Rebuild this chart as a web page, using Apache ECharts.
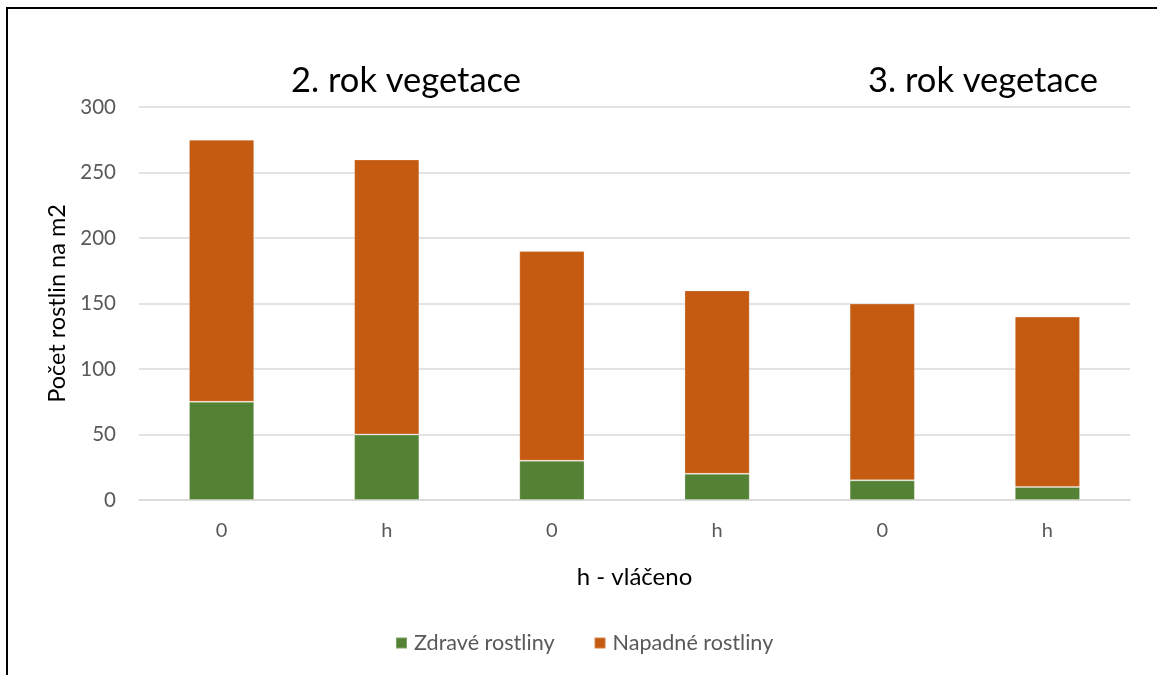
<!DOCTYPE html>
<html>
<head>
<meta charset="utf-8">
<script src="https://cdn.jsdelivr.net/npm/echarts@6/dist/echarts.min.js"></script>
<style>
  html, body { margin: 0; padding: 0; background: #fff; }
  #chart { width: 1157px; height: 675px; }
</style>
</head>
<body>
<div id="chart"></div>
<script>
// Plant counts per m2, split into healthy and infested plants
const categories = ['0', 'h', '0', 'h', '0', 'h'];
const zdrave = [75, 50, 30, 20, 15, 10];
const napadne = [200, 210, 160, 140, 135, 130];
const yTicks = { min: 0, max: 300, interval: 50 };
const sectionTitles = ['2. rok vegetace', '3. rok vegetace'];

const FONT = 'Lato, "Open Sans", sans-serif';
const chart = echarts.init(document.getElementById('chart'), null, { renderer: 'canvas' });

chart.setOption({
  backgroundColor: '#ffffff',
  animation: false,
  title: [
    { text: sectionTitles[0], left: 286, top: 58,
      textStyle: { fontFamily: FONT, fontSize: 34.5, fontWeight: 'normal', color: '#000' } },
    { text: sectionTitles[1], left: 863, top: 58,
      textStyle: { fontFamily: FONT, fontSize: 34.5, fontWeight: 'normal', color: '#000' } }
  ],
  grid: { left: 139, right: 27, top: 107, bottom: 175, containLabel: false },
  legend: {
    top: 627,
    left: 390,
    itemWidth: 11, itemHeight: 11, itemGap: 39,
    icon: 'rect',
    textStyle: { fontFamily: FONT, fontSize: 21.6, color: '#595959', padding: [0, 0, 0, 2] },
    data: ['Zdravé rostliny', 'Napadné rostliny']
  },
  xAxis: {
    type: 'category',
    data: categories,
    name: 'h - vláčeno',
    nameLocation: 'middle',
    nameGap: 65,
    nameTextStyle: { fontFamily: FONT, fontSize: 24, color: '#000' },
    axisLine: { lineStyle: { color: '#d9d9d9', width: 1.5 } },
    axisTick: { show: false },
    axisLabel: { fontFamily: FONT, fontSize: 20, color: '#595959', margin: 21 }
  },
  yAxis: {
    type: 'value',
    min: yTicks.min, max: yTicks.max, interval: yTicks.interval,
    name: 'Počet rostlin na m2',
    nameLocation: 'middle',
    nameGap: 67,
    nameTextStyle: { fontFamily: FONT, fontSize: 23.5, color: '#000' },
    axisLine: { show: false },
    axisTick: { show: false },
    axisLabel: { fontFamily: FONT, fontSize: 20.5, color: '#595959', margin: 23 },
    splitLine: { lineStyle: { color: '#d9d9d9', width: 1.5 } }
  },
  series: [
    { name: 'Zdravé rostliny', type: 'bar', stack: 'rostliny', data: zdrave,
      barWidth: '39.5%',
      itemStyle: { color: '#548235', borderColor: 'rgba(255,255,255,0.25)', borderWidth: 1 } },
    { name: 'Napadné rostliny', type: 'bar', stack: 'rostliny', data: napadne,
      barWidth: '39.5%',
      itemStyle: { color: '#C55A11', borderColor: 'rgba(255,255,255,0.25)', borderWidth: 1 } }
  ],
  graphic: [
    { type: 'line', shape: { x1: 7, y1: 8, x2: 7, y2: 675 },
      style: { stroke: '#000', lineWidth: 2 } },
    { type: 'line', shape: { x1: 6, y1: 8, x2: 1157, y2: 8 },
      style: { stroke: '#000', lineWidth: 2 } }
  ]
});
</script>
</body>
</html>
